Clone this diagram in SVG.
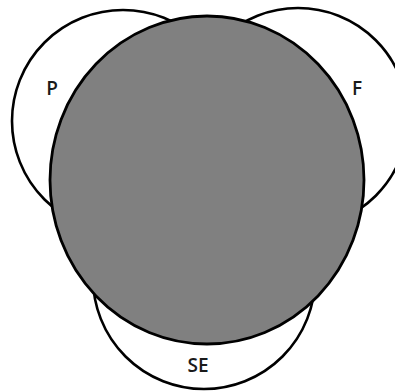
<svg xmlns="http://www.w3.org/2000/svg" width="395" height="392" viewBox="0 0 395 392">
  <style>
    .set { fill: #ffffff; stroke: #000000; stroke-width: 2.6; }
    .core { fill: #808080; stroke: #000000; stroke-width: 2.8; }
    .lbl { font-family: "Open Sans", "Liberation Sans", sans-serif; font-size: 19px; font-weight: 600; fill: #1a1a1a; text-anchor: middle; }
  </style>
  <rect width="395" height="392" fill="#ffffff"/>
  <g id="node-P">
    <circle class="set" cx="123" cy="121" r="111"/>
    <text class="lbl" x="52" y="95">P</text>
  </g>
  <g id="node-F">
    <circle class="set" cx="298" cy="118" r="110"/>
    <text class="lbl" x="357" y="95">F</text>
  </g>
  <g id="node-SE">
    <circle class="set" cx="204" cy="278" r="111"/>
    <text class="lbl" x="198" y="372">SE</text>
  </g>
  <g id="node-core">
    <ellipse class="core" cx="207" cy="180" rx="157" ry="164"/>
  </g>
  <g id="connectors"></g>
</svg>
